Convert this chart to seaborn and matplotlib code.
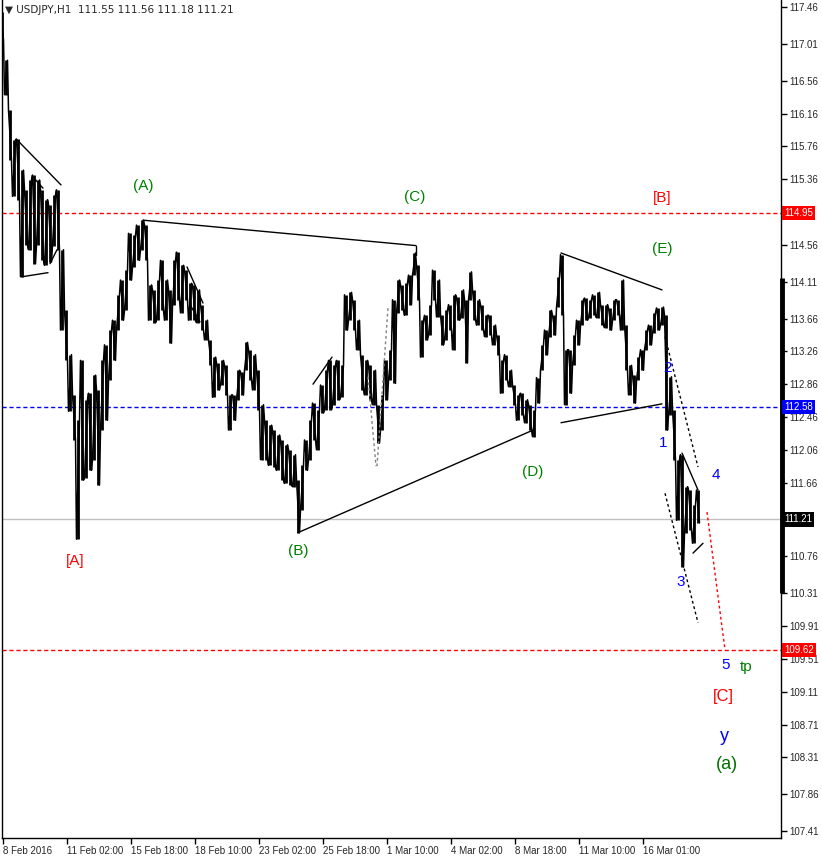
import numpy as np
import pandas as pd
import matplotlib
matplotlib.use("Agg")
import matplotlib.pyplot as plt
import seaborn as sns

# USDJPY H1, high / low of every 4-bar block
high = [117.40, 116.81, 116.20, 115.84, 115.85, 115.47, 115.23, 115.35, 115.41, 115.35,
        115.23, 115.11, 115.05, 115.17, 115.23, 114.50, 113.76, 113.22, 112.73, 112.42,
        113.15, 112.67, 112.75, 112.97, 112.79, 113.15, 113.34, 113.52, 113.64, 113.95,
        114.13, 114.25, 114.70, 114.68, 114.80, 114.86, 114.80, 114.07, 114.01, 114.13,
        114.37, 114.13, 114.01, 114.37, 114.47, 114.31, 114.25, 114.09, 114.07, 114.01,
        113.83, 113.64, 113.40, 113.19, 113.12, 113.15, 113.09, 112.73, 112.73, 113.03,
        113.01, 113.37, 113.28, 113.22, 113.03, 112.61, 112.42, 112.36, 112.30, 112.24,
        112.18, 112.12, 112.06, 112.00, 111.69, 111.87, 112.18, 112.42, 112.63, 112.55,
        112.85, 113.03, 113.15, 113.09, 113.15, 113.09, 113.95, 113.98, 113.89, 113.64,
        113.22, 113.15, 113.09, 113.03, 112.61, 112.73, 113.15, 113.28, 113.89, 114.13,
        114.07, 114.09, 114.19, 114.46, 114.31, 113.64, 113.70, 113.83, 114.25, 114.13,
        113.70, 113.76, 113.83, 113.95, 113.92, 114.01, 113.89, 114.23, 114.01, 113.89,
        113.83, 113.70, 113.70, 113.58, 113.46, 113.15, 113.22, 113.03, 112.85, 112.73,
        112.75, 112.67, 112.61, 112.55, 112.94, 113.34, 113.52, 113.76, 113.70, 114.17,
        114.44, 113.28, 113.28, 113.46, 113.64, 113.89, 113.91, 113.89, 113.95, 113.98,
        113.83, 113.83, 113.79, 113.89, 113.89, 114.13, 113.58, 113.09, 112.97, 113.19,
        113.28, 113.52, 113.58, 113.73, 113.79, 113.80, 113.70, 112.95, 112.55, 111.94,
        112.00, 111.61, 111.57, 111.39, 111.57]
low = [117.06, 116.39, 115.59, 115.15, 115.11, 114.17, 114.56, 114.50, 114.33, 114.56,
       114.37, 114.31, 114.35, 114.55, 114.50, 113.52, 113.15, 112.53, 112.18, 110.97,
       111.69, 111.72, 111.81, 111.94, 111.63, 112.30, 112.42, 112.91, 113.15, 113.52,
       113.64, 113.76, 114.13, 114.29, 114.37, 114.50, 114.37, 113.64, 113.61, 113.64,
       113.76, 113.64, 113.36, 113.83, 113.89, 113.73, 113.89, 113.64, 113.64, 113.61,
       113.52, 113.40, 113.09, 112.70, 112.79, 112.85, 112.73, 112.30, 112.42, 112.67,
       112.73, 113.03, 112.91, 112.79, 112.55, 111.94, 111.94, 111.87, 111.85, 111.81,
       111.69, 111.65, 111.63, 111.61, 111.05, 111.33, 111.81, 111.94, 112.18, 112.06,
       112.51, 112.55, 112.55, 112.61, 112.67, 112.70, 113.52, 113.64, 113.52, 113.28,
       112.79, 112.73, 112.67, 112.61, 112.14, 112.30, 112.67, 112.91, 112.87, 113.73,
       113.76, 113.70, 113.83, 114.19, 113.89, 113.19, 113.40, 113.46, 113.89, 113.68,
       113.34, 113.40, 113.52, 113.28, 113.64, 113.67, 113.12, 113.89, 113.64, 113.58,
       113.52, 113.44, 113.46, 113.34, 113.22, 112.75, 112.91, 112.83, 112.61, 112.42,
       112.48, 112.39, 112.30, 112.22, 112.63, 113.03, 113.22, 113.44, 113.46, 113.80,
       113.70, 112.61, 112.75, 113.09, 113.34, 113.58, 113.64, 113.67, 113.70, 113.67,
       113.58, 113.55, 113.52, 113.64, 113.70, 113.52, 113.03, 112.73, 112.63, 112.91,
       113.03, 113.28, 113.34, 113.48, 113.52, 113.58, 112.30, 112.48, 111.94, 111.20,
       110.63, 111.05, 111.08, 110.92, 111.17]

price_ticks = [117.46, 117.01, 116.56, 116.16, 115.76, 115.36, 114.56, 114.11, 113.66,
               113.26, 112.86, 112.46, 112.06, 111.66, 110.76, 110.31, 109.91, 109.51,
               109.11, 108.71, 108.31, 107.86, 107.41]
date_pos = [3, 67, 131, 195, 259, 323, 387, 451, 515, 579, 643]
date_labels = ["8 Feb 2016", "11 Feb 02:00", "15 Feb 18:00", "18 Feb 10:00",
               "23 Feb 02:00", "25 Feb 18:00", "1 Mar 10:00", "4 Mar 02:00",
               "8 Mar 18:00", "11 Mar 10:00", "16 Mar 01:00"]

levels = [114.95, 112.58, 111.21, 109.62]
level_colors = ["red", "blue", "#c0c0c0", "red"]
level_styles = ["--", "--", "-", "--"]
level_box = ["red", "blue", "black", "red"]

# wave drawing: (x0, p0, x1, p1, color, style)
dash = (0, (2, 2))
wave_lines = [
    (17, 115.84, 61, 115.29, "black", "-"),
    (22, 114.17, 48, 114.22, "black", "-"),
    (50, 114.33, 57, 114.50, "black", "-"),
    (35, 115.36, 43, 115.25, "black", "-"),
    (143, 114.86, 416, 114.55, "black", "-"),
    (416, 114.55, 416, 114.44, "black", "-"),
    (187, 114.29, 203, 113.85, "black", "-"),
    (190, 113.83, 200, 113.62, "black", "-"),
    (313, 112.86, 332, 113.19, "black", "-"),
    (298, 111.05, 533, 112.30, "black", "-"),
    (561, 114.46, 662, 114.01, "black", "-"),
    (561, 112.39, 662, 112.62, "black", "-"),
    (368, 112.95, 376, 111.86, "gray", dash),
    (377, 111.86, 388, 113.80, "gray", dash),
    (665, 113.44, 698, 111.85, "black", dash),
    (665, 111.53, 698, 109.95, "black", dash),
    (682, 112.02, 698, 111.57, "black", "-"),
    (693, 110.80, 703, 110.92, "black", "-"),
    (707, 111.30, 725, 109.62, "red", dash),
]

# wave labels: (text, x, price, color, size)
wave_labels = [
    ("(A)", 143, 115.28, "green", 11), ("(C)", 415, 115.14, "green", 11),
    ("[B]", 662, 115.13, "red", 11), ("(E)", 662, 114.51, "green", 11),
    ("(D)", 533, 111.79, "green", 11), ("(B)", 298, 110.83, "green", 11),
    ("[A]", 75, 110.70, "red", 11), ("1", 663, 112.14, "blue", 11),
    ("2", 668, 113.06, "blue", 11), ("3", 681, 110.45, "blue", 11),
    ("4", 716, 111.75, "blue", 11), ("5", 726, 109.44, "blue", 11),
    ("tp", 746, 109.41, "green", 11), ("[C]", 723, 109.05, "red", 12),
    ("y", 724, 108.56, "blue", 13), ("(a)", 727, 108.22, "#007000", 13),
]

sns.set_style("white")
plt.rcParams["font.family"] = ["Liberation Sans", "DejaVu Sans"]

fig = plt.figure(figsize=(8.22, 8.58), dpi=100)
ax = fig.add_axes([2 / 822, 20 / 858, 779 / 822, 838 / 858])

df = pd.DataFrame({"bar": np.arange(2, 2 + 4 * len(high), 4), "high": high, "low": low})
ax.vlines(df["bar"], df["low"], df["high"], color="black", lw=2.0)

# jagged path: high then low inside each block, alternating direction
zig = []
for i, r in df.iterrows():
    first, second = (r["high"], r["low"]) if i % 2 == 0 else (r["low"], r["high"])
    zig.append((r["bar"] - 1.5, first))
    zig.append((r["bar"] + 1.5, second))
zig = pd.DataFrame(zig, columns=["bar", "price"])
sns.lineplot(data=zig, x="bar", y="price", color="black", lw=1.1, sort=False,
             estimator=None, ax=ax)

for lv, c, ls in zip(levels, level_colors, level_styles):
    ax.axhline(lv, color=c, lw=1, ls=ls, dashes=(3, 2) if ls == "--" else (None, None), zorder=0)

for x0, p0, x1, p1, c, ls in wave_lines:
    ax.plot([x0, x1], [p0, p1], color=c, lw=1, ls=ls)

for t, x, p, c, s in wave_labels:
    ax.text(x, p, t, color=c, fontsize=s, ha="center", va="center")

ax.set_xlim(2, 781)
ax.set_ylim(107.326, 117.545)
ax.set_xlabel("")
ax.set_ylabel("")

ax.yaxis.tick_right()
ax.set_yticks(price_ticks)
ax.set_yticklabels([f"{v:.2f}" for v in price_ticks])
ax.set_xticks(date_pos)
ax.set_xticklabels(date_labels, ha="left")
ax.tick_params(axis="both", length=4, width=1, color="black", labelsize=7, pad=2,
               right=True, left=False, bottom=True)

for side in ["left", "bottom", "right"]:
    ax.spines[side].set_color("black")
    ax.spines[side].set_linewidth(1)
ax.spines["top"].set_visible(False)

# thick segment on the price scale
ax.plot([782, 782], [114.16, 110.31], color="black", lw=3.5, solid_capstyle="butt", clip_on=False)

for lv, bc in zip(levels, level_box):
    ax.text(1.004, lv, f"{lv:.2f}", transform=ax.get_yaxis_transform(), color="white",
            fontsize=7, va="center", ha="left",
            bbox=dict(facecolor=bc, edgecolor="none", pad=1.5))

fig.text(5 / 822, 1 - 10 / 858, "\u25bc USDJPY,H1  111.55 111.56 111.18 111.21",
         fontsize=7.5, va="center", ha="left", family=["DejaVu Sans"])

fig.savefig("out.png", dpi=100)
